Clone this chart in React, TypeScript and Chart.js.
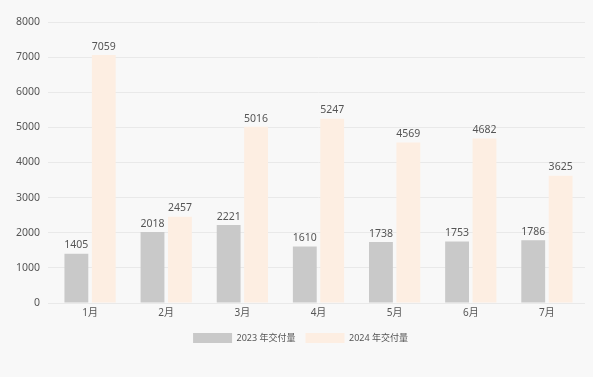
import React, { useEffect, useRef } from "react";
import { Chart, registerables } from "chart.js";

Chart.register(...registerables);

const months = ["1月", "2月", "3月", "4月", "5月", "6月", "7月"];
const deliveries2023 = [1405, 2018, 2221, 1610, 1738, 1753, 1786];
const deliveries2024 = [7059, 2457, 5016, 5247, 4569, 4682, 3625];
const seriesNames = ["2023 年交付量", "2024 年交付量"];
const yTicks = [0, 1000, 2000, 3000, 4000, 5000, 6000, 7000, 8000];

const FONT = "'Noto Sans', 'Noto Sans CJK SC', sans-serif";

const valueLabels = {
  id: "valueLabels",
  afterDatasetsDraw(chart: any) {
    const ctx = chart.ctx;
    ctx.save();
    ctx.font = `10.5px ${FONT}`;
    ctx.fillStyle = "#555555";
    ctx.textAlign = "center";
    ctx.textBaseline = "bottom";
    chart.data.datasets.forEach((ds: any, di: number) => {
      const meta = chart.getDatasetMeta(di);
      meta.data.forEach((bar: any, i: number) => {
        ctx.fillText(String(ds.data[i]), bar.x, bar.y - 3);
      });
    });
    ctx.restore();
  },
};

export default function App() {
  const ref = useRef<HTMLCanvasElement>(null);
  useEffect(() => {
    document.body.style.margin = "0";
    const chart = new Chart(ref.current!, {
      type: "bar",
      data: {
        labels: months,
        datasets: [
          {
            label: seriesNames[0],
            data: deliveries2023,
            backgroundColor: "#c9c9c9",
            categoryPercentage: 0.72,
            barPercentage: 0.87,
          },
          {
            label: seriesNames[1],
            data: deliveries2024,
            backgroundColor: "#fdeee2",
            categoryPercentage: 0.72,
            barPercentage: 0.87,
          },
        ],
      },
      options: {
        animation: false,
        responsive: false,
        maintainAspectRatio: false,
        layout: { padding: { left: 16, right: 8, top: 22, bottom: 24 } },
        scales: {
          x: {
            grid: { display: false, drawTicks: false },
            border: { display: false },
            ticks: { color: "#555555", font: { family: FONT, size: 10 }, padding: 4 },
          },
          y: {
            min: 0,
            max: 8000,
            afterBuildTicks: (axis: any) => {
              axis.ticks = yTicks.map((v) => ({ value: v }));
            },
            afterFit: (axis: any) => {
              axis.width = 36;
            },
            grid: { color: "#e9e9e9", tickLength: 4, tickColor: "#e9e9e9" },
            border: { display: false },
            ticks: {
              color: "#555555",
              font: { family: FONT, size: 10.5 },
              padding: 8,
              callback: (v: any) => String(v),
            },
          },
        },
        plugins: {
          legend: {
            position: "bottom",
            labels: {
              boxWidth: 39,
              boxHeight: 10,
              padding: 10,
              color: "#555555",
              font: { family: FONT, size: 9 },
            },
          },
          tooltip: { enabled: false },
        },
      },
      plugins: [valueLabels],
    });
    return () => chart.destroy();
  }, []);
  return (
    <div style={{ width: 593, height: 377, background: "#f8f8f8" }}>
      <canvas ref={ref} width={593} height={377} />
    </div>
  );
}
